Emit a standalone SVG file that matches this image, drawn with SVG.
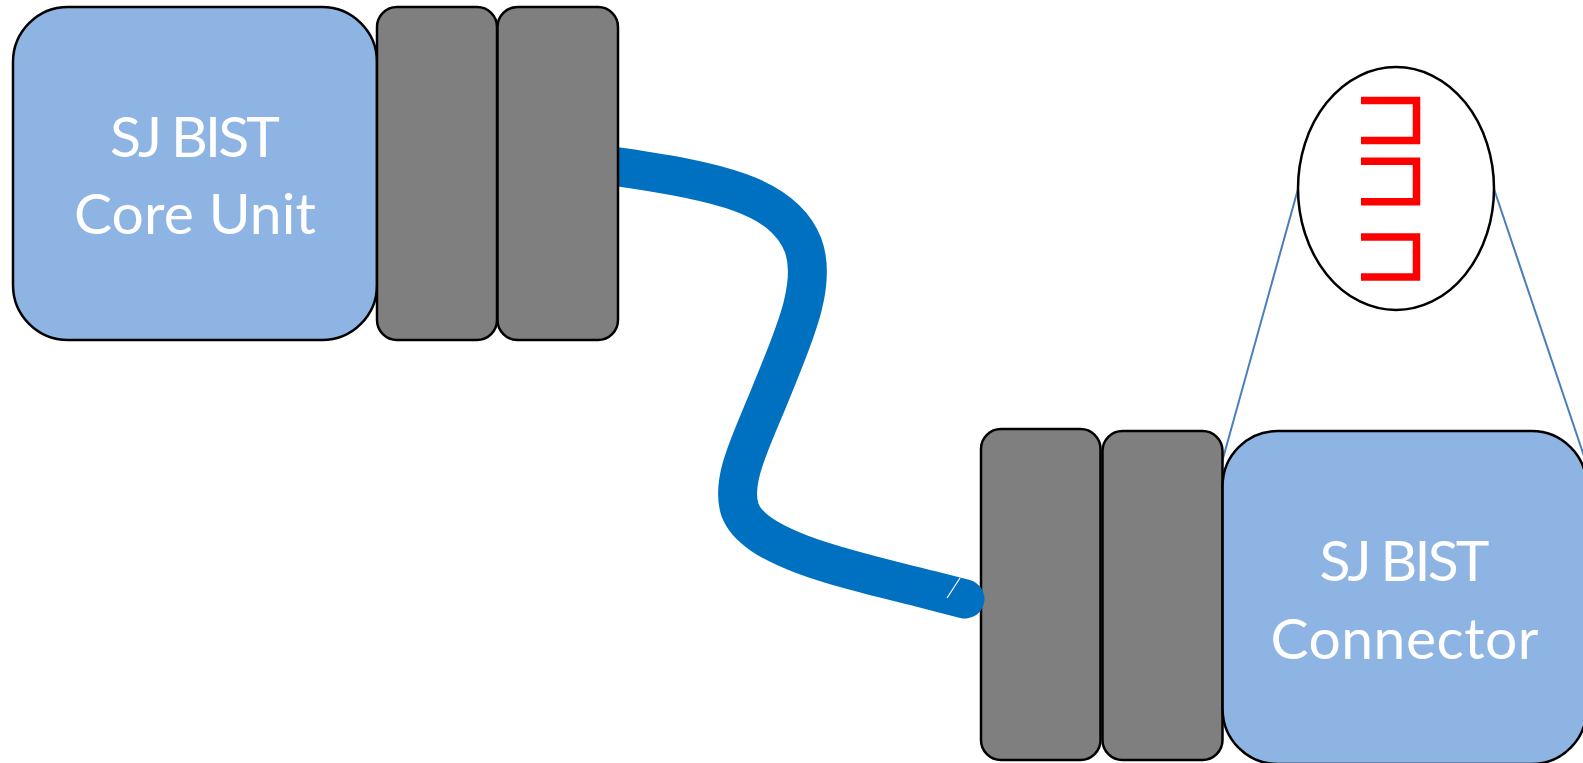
<svg xmlns="http://www.w3.org/2000/svg" width="1583" height="763" viewBox="0 0 1583 763">
  <style>
    .unit { fill: #8EB4E3; stroke: #000; stroke-width: 2.5; }
    .plug { fill: #7F7F7F; stroke: #000; stroke-width: 2.5; }
    .label { fill: #fff; font-family: Lato, "Liberation Sans", sans-serif; font-size: 57px; text-anchor: middle; }
    .cable { fill: none; stroke: #0070C0; stroke-width: 39; stroke-linecap: round; }
    .guide { stroke: #4A7EBB; stroke-width: 2; fill: none; }
    .pin { fill: none; stroke: #FF0000; stroke-width: 7.5; stroke-linejoin: miter; }
  </style>

  <rect width="1583" height="763" fill="#fff"/>

  <!-- magnified view of the connector pins -->
  <g id="pin-detail">
    <line class="guide" x1="1298" y1="189" x2="1222" y2="462"/>
    <line class="guide" x1="1494" y1="189" x2="1590" y2="474"/>
    <ellipse cx="1396" cy="188.5" rx="98" ry="121.5" fill="#fff" stroke="#000" stroke-width="2.5"/>
    <path class="pin" d="M1361,100.5 H1416.5 V140.5 H1361"/>
    <path class="pin" d="M1361,161.3 H1416.5 V201.8 H1361"/>
    <path class="pin" d="M1361,237 H1416.5 V277 H1361"/>
  </g>

  <!-- connector end: two plugs and the connector body -->
  <g id="connector-plug-a">
    <rect class="plug" x="981" y="429" width="119.5" height="331" rx="20"/>
  </g>
  <g id="connector-plug-b">
    <rect class="plug" x="1102.5" y="431" width="120" height="329" rx="20"/>
  </g>
  <g id="sj-bist-connector">
    <rect class="unit" x="1222.6" y="431" width="364" height="333" rx="55"/>
    <text class="label" x="1404.5" y="580.5" textLength="170">SJ BIST</text>
    <text class="label" x="1404.5" y="659" textLength="268">Connector</text>
  </g>

  <!-- cable between the two ends -->
  <g id="connectors">
    <path class="cable" d="M612,166 C720,181 784,196 803,245 C818,285 792,340 772,390 C752,440 730,480 740,510 C755,550 850,570 930,590 L965,599"/>
    <line x1="960" y1="578" x2="947" y2="598" stroke="#fff" stroke-width="1.2"/>
  </g>

  <!-- core unit end: body and two plugs -->
  <g id="sj-bist-core-unit">
    <rect class="unit" x="13" y="7" width="364" height="333" rx="55"/>
    <text class="label" x="195" y="156.5" textLength="170">SJ BIST</text>
    <text class="label" x="195" y="234" textLength="242">Core Unit</text>
  </g>
  <g id="core-plug-a">
    <rect class="plug" x="377" y="7" width="120" height="333" rx="20"/>
  </g>
  <g id="core-plug-b">
    <rect class="plug" x="497.5" y="7" width="120.5" height="333" rx="20"/>
  </g>
</svg>
